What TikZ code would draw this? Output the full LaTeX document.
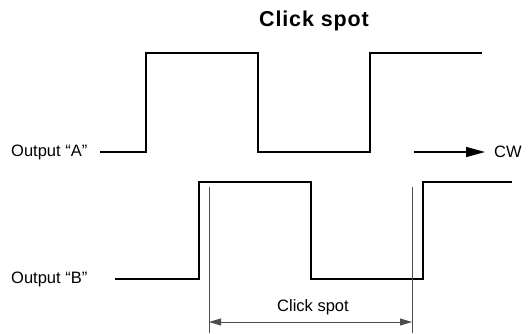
\documentclass[tikz,border=0pt]{standalone}
\usepackage{fontspec}
\setmainfont{Liberation Sans}
\usetikzlibrary{arrows.meta}

\begin{document}
\begin{tikzpicture}[x=1pt,y=-1pt,
    wave/.style={line width=1.5pt,line join=miter},
    guide/.style={black!70,line width=0.9pt},
    lbl/.style={inner sep=0pt,font=\fontsize{16.5}{18}\selectfont}]
  \useasboundingbox (0,0) rectangle (528,333);

  \node[inner sep=0pt,font=\fontsize{21.5}{24}\selectfont\bfseries\addfontfeatures{LetterSpace=4}] (title) at (314,21) {Click spot};

  % output A
  \node[lbl,anchor=west] (outA) at (11,152) {Output “A”};
  \draw[wave] (100,152) -- (146,152) -- (146,53) -- (258,53) -- (258,152) -- (370,152) -- (370,53) -- (482,53);
  \coordinate (cwstart) at (414,152);
  \node[lbl,anchor=west] (cw) at (494,152) {CW};
  \draw[line width=1.5pt,-{Triangle[length=19pt,width=10pt]}] (cwstart) -- ([xshift=-9pt]cw.west);

  % output B
  \node[lbl,anchor=west] (outB) at (11,279) {Output “B”};
  \draw[wave] (115,279) -- (199,279) -- (199,182) -- (311,182) -- (311,279) -- (423,279) -- (423,182) -- (512,182);

  % click spot
  \coordinate (g1) at (209,187);
  \coordinate (g2) at (412,187);
  \draw[guide] (g1) -- (209,333);
  \draw[guide] (g2) -- (412,333);
  \draw[guide,{Triangle[length=12pt,width=7pt]}-{Triangle[length=12pt,width=7pt]}] (209,322) -- (412,322);
  \node[lbl] (spot) at (313,307) {Click spot};
\end{tikzpicture}
\end{document}
